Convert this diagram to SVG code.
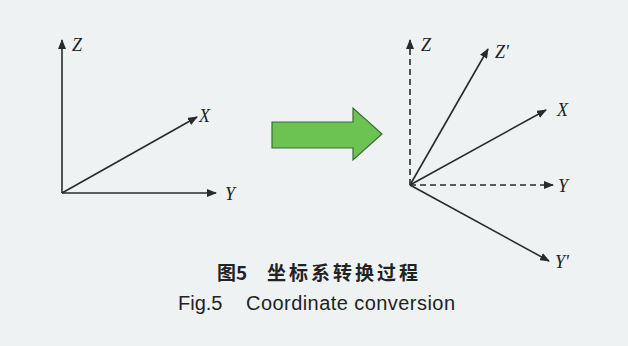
<svg xmlns="http://www.w3.org/2000/svg" width="628" height="346" viewBox="0 0 628 346">
<style>
.ax{stroke:#2a2a2a;stroke-width:1.6;fill:none}
.dash{stroke-dasharray:6 4}
.lbl{font-family:"Liberation Serif",serif;font-style:italic;font-size:18px;fill:#222}
.cap{font-family:"Liberation Sans","Noto Sans CJK SC",sans-serif;font-size:20px;fill:#222}
.cn{font-family:"Noto Sans CJK SC","Liberation Sans",sans-serif;font-weight:bold;font-size:19px;fill:#222}
</style>
<defs>
<marker id="ah" markerWidth="10" markerHeight="8" refX="9" refY="4" orient="auto" markerUnits="userSpaceOnUse">
<path d="M0,0 L10,4 L0,8 Z" fill="#2a2a2a"/>
</marker>
</defs>
<rect width="628" height="346" fill="#eef2f3"/>
<g id="connectors">
<line class="ax" x1="62" y1="193" x2="62" y2="40" marker-end="url(#ah)"/>
<line class="ax" x1="62" y1="193" x2="197" y2="117" marker-end="url(#ah)"/>
<line class="ax" x1="62" y1="193" x2="216" y2="193" marker-end="url(#ah)"/>
<line class="ax dash" x1="410" y1="185" x2="410" y2="40" marker-end="url(#ah)"/>
<line class="ax dash" x1="410" y1="185" x2="553" y2="185" marker-end="url(#ah)"/>
<line class="ax" x1="410" y1="185" x2="488" y2="49" marker-end="url(#ah)"/>
<line class="ax" x1="410" y1="185" x2="546" y2="110" marker-end="url(#ah)"/>
<line class="ax" x1="410" y1="185" x2="549" y2="261" marker-end="url(#ah)"/>
</g>
<g id="left-axes">
<text class="lbl" x="72" y="51">Z</text>
<text class="lbl" x="199" y="122">X</text>
<text class="lbl" x="225" y="200">Y</text>
</g>
<g id="green-arrow">
<path d="M272,122 L353,122 L353,108 L382,134 L353,160 L353,148 L272,148 Z" fill="#6cc352" stroke="#3d6b36" stroke-width="1.2"/>
</g>
<g id="right-axes">
<text class="lbl" x="421" y="51">Z</text>
<text class="lbl" x="495" y="58">Z'</text>
<text class="lbl" x="557" y="116">X</text>
<text class="lbl" x="558" y="192">Y</text>
<text class="lbl" x="555" y="268">Y'</text>
</g>
<g id="caption">
<text class="cn" x="217" y="280">图5</text>
<text class="cn" x="267" y="280" textLength="151" lengthAdjust="spacing">坐标系转换过程</text>
<text class="cap" x="178" y="310">Fig.5</text>
<text class="cap" x="246" y="310" textLength="209" lengthAdjust="spacing">Coordinate conversion</text>
</g>
</svg>
